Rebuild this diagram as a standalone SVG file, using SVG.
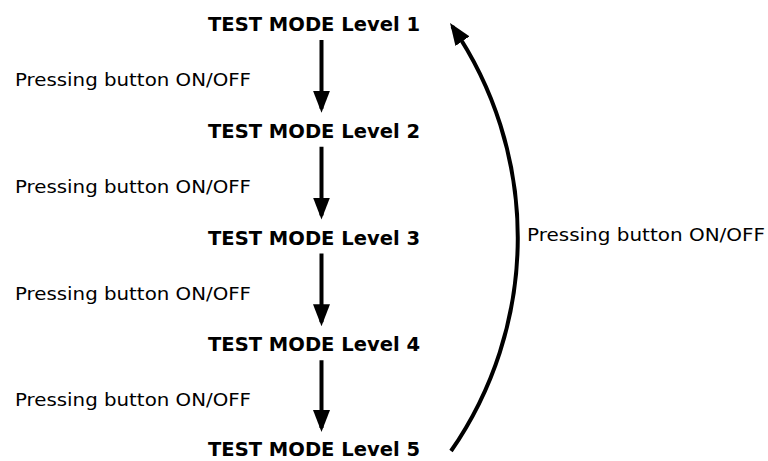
<svg xmlns="http://www.w3.org/2000/svg" width="768" height="461" viewBox="0 0 768 461">
<style>
.t{font-family:"DejaVu Sans","Liberation Sans",sans-serif;font-weight:bold;font-size:20px;fill:#000}
.l{font-family:"DejaVu Sans","Liberation Sans",sans-serif;font-size:18.5px;fill:#000}
.c{fill:none;stroke:#000;stroke-width:4}
</style>
<defs>
<marker id="ah" markerUnits="userSpaceOnUse" markerWidth="22" markerHeight="17" refX="18" refY="8.5" orient="auto">
<path d="M0,0 L22,8.5 L0,17 z" fill="#000"/>
</marker>
</defs>
<rect width="768" height="461" fill="#fff"/>
<g id="n1"><text class="t" x="208" y="31" textLength="212" lengthAdjust="spacingAndGlyphs">TEST MODE Level 1</text></g>
<g id="n2"><text class="t" x="208" y="137.75" textLength="212" lengthAdjust="spacingAndGlyphs">TEST MODE Level 2</text></g>
<g id="n3"><text class="t" x="208" y="244.5" textLength="212" lengthAdjust="spacingAndGlyphs">TEST MODE Level 3</text></g>
<g id="n4"><text class="t" x="208" y="351.25" textLength="212" lengthAdjust="spacingAndGlyphs">TEST MODE Level 4</text></g>
<g id="n5"><text class="t" x="208" y="456" textLength="212" lengthAdjust="spacingAndGlyphs">TEST MODE Level 5</text></g>
<g id="connectors">
<path class="c" d="M321.5,40 V108.75" marker-end="url(#ah)"/>
<path class="c" d="M321.5,146.75 V215.5" marker-end="url(#ah)"/>
<path class="c" d="M321.5,253.5 V322.25" marker-end="url(#ah)"/>
<path class="c" d="M321.5,360.25 V428" marker-end="url(#ah)"/>
<path class="c" d="M451,451 A374,374 0 0 0 452.3,26.3" marker-end="url(#ah)"/>
<text class="l" x="15" y="86" textLength="236" lengthAdjust="spacingAndGlyphs">Pressing button ON/OFF</text>
<text class="l" x="15" y="192.8" textLength="236" lengthAdjust="spacingAndGlyphs">Pressing button ON/OFF</text>
<text class="l" x="15" y="299.6" textLength="236" lengthAdjust="spacingAndGlyphs">Pressing button ON/OFF</text>
<text class="l" x="15" y="406.4" textLength="236" lengthAdjust="spacingAndGlyphs">Pressing button ON/OFF</text>
<text class="l" x="527" y="241" textLength="238" lengthAdjust="spacingAndGlyphs">Pressing button ON/OFF</text>
</g>
</svg>
